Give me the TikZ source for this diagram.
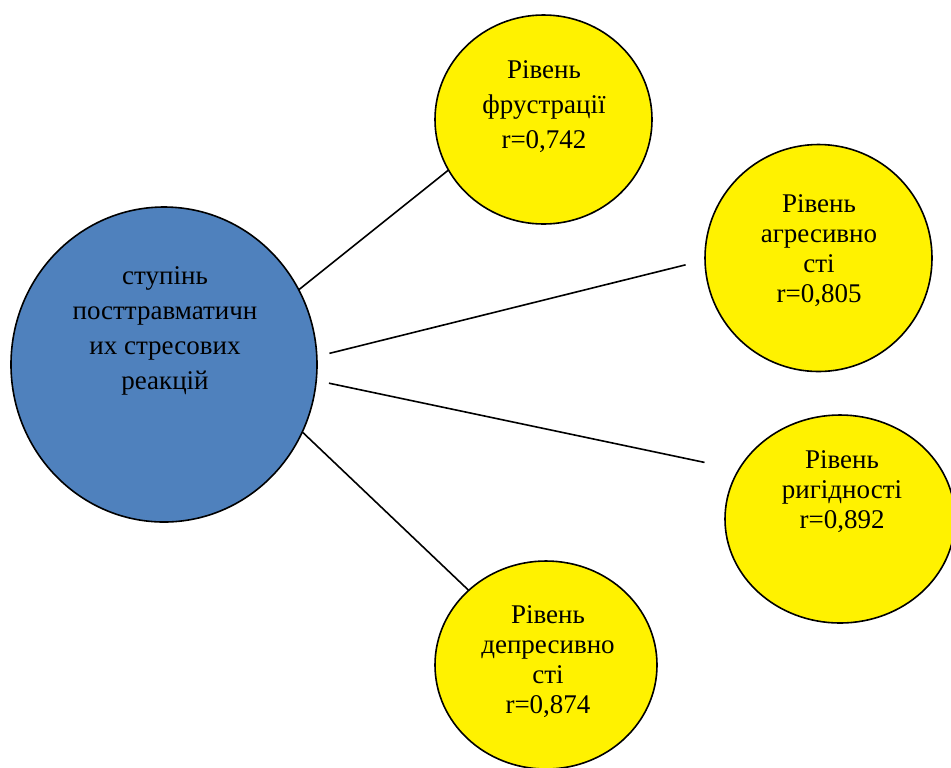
\documentclass[tikz,border=0pt]{standalone}
\usepackage{fontspec}
\setmainfont{Liberation Serif}
\usetikzlibrary{shapes.geometric}
\definecolor{hubblue}{RGB}{79,129,189}
\begin{document}
\begin{tikzpicture}[x=0.5pt,y=-0.5pt,
  hub/.style={ellipse,draw=black,line width=0.8pt,fill=hubblue,inner sep=0pt,outer sep=0pt},
  factor/.style={ellipse,draw=black,line width=0.8pt,fill=yellow,inner sep=0pt,outer sep=0pt},
  txt/.style={align=center,inner sep=0pt,font=\fontsize{13.5}{17.5}\selectfont},
  txttight/.style={align=center,inner sep=0pt,font=\fontsize{13.5}{15}\selectfont},
  link/.style={black,line width=0.8pt}]
\path[use as bounding box,clip] (0,0) rectangle (951,767);
% centre
\node[hub,minimum width=153pt,minimum height=157.5pt] (hub) at (164,364.5) {};
\node[txt] (hubtext) at (165,331) {ступінь\\посттравматичн\\их стресових\\реакцій};
% factors
\node[factor,minimum width=108.5pt,minimum height=104.5pt] (frus) at (543.5,119.5) {};
\node[txt] (frustext) at (544,107) {Рівень\\фрустрації\\r=0,742};
\node[factor,minimum width=113.5pt,minimum height=113.5pt] (aggr) at (818.5,258) {};
\node[txttight] (aggrtext) at (819,251) {Рівень\\агресивно\\сті\\r=0,805};
\node[factor,minimum width=115pt,minimum height=104pt] (rigid) at (840,519) {};
\node[txttight] (rigidtext) at (842,492) {Рівень\\ригідності\\r=0,892};
\node[factor,minimum width=111pt,minimum height=104pt] (depr) at (546,665) {};
\node[txttight] (deprtext) at (548,662) {Рівень\\депресивно\\сті\\r=0,874};
% links
\draw[link] (hub.29) -- (frus.208);
\draw[link,shorten <=6.5pt,shorten >=10pt] (hub.3) -- (aggr.181);
\draw[link,shorten <=6.5pt,shorten >=17.5pt] (hub.-6) -- (rigid.154);
\draw[link] (hub.-26) -- (depr.136);
\end{tikzpicture}
\end{document}
